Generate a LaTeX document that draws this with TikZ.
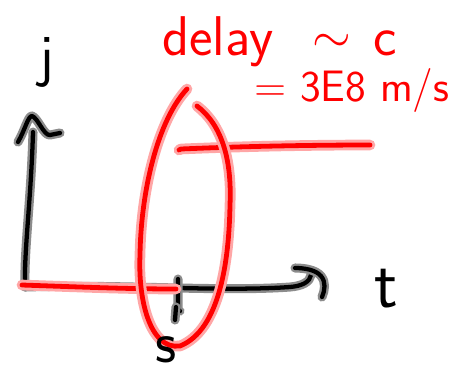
\documentclass[tikz,border=0pt]{standalone}
\usetikzlibrary{calc}
\tikzset{
  pen/.style={draw=black, line cap=round, line join=round, line width=3.2pt,
    preaction={draw=black!45, line width=6.8pt, line cap=round, line join=round}},
  redpen/.style={draw=red, line cap=round, line join=round, line width=3.6pt,
    preaction={draw=red!35, line width=8pt, line cap=round, line join=round}},
  redlabel/.style={text=red, inner sep=0pt, font=\sffamily},
  blacklabel/.style={text=black, inner sep=0pt, font=\sffamily},
}
\begin{document}
\begin{tikzpicture}[x=0.75pt,y=-0.75pt]
\useasboundingbox (0,0) rectangle (467,376);
% y axis
\draw[pen] (33,132) .. controls (31,200) and (24,250) .. (25,287);
\draw[pen] (18,142) .. controls (25,130) and (28,116) .. (32,116) .. controls (38,118) and (44,136) .. (50,135) -- (60,133);
% x axis
\draw[pen] (25,287) .. controls (120,284) and (220,292) .. (290,287) .. controls (302,286) and (310,282) .. (311,275);
\draw[pen] (295,268) .. controls (305,268) and (316,270) .. (321,276) .. controls (326,282) and (325,290) .. (322,297);
% tick
\draw[pen] (178,279) -- (178,310) -- (180,311);
\draw[pen] (176,307) -- (175,320);
% red baseline
\draw[redpen] (22,285) .. controls (80,287) and (130,289) .. (176,289);
% red step line
\draw[redpen] (179,150) -- (181,149) .. controls (250,146) and (320,145) .. (370,145);
% red ellipse
\draw[redpen] (197,106) .. controls (222,125) and (232,160) .. (230,205) .. controls (229,260) and (220,330) .. (180,346) .. controls (150,350) and (138,300) .. (140,255) .. controls (141,190) and (158,120) .. (187,89);
% labels
\node[blacklabel, font=\sffamily\fontsize{44}{46}\selectfont] (jlab) at (47,62) {j};
\node[blacklabel, font=\sffamily\fontsize{52}{54}\selectfont] (tlab) at (386,289) {t};
\node[blacklabel, font=\sffamily\fontsize{44}{46}\selectfont] (slab) at (166,350) {s};
\node[redlabel, anchor=base west, font=\sffamily\fontsize{42}{44}\selectfont] (delay) at (162,55) {delay\hspace{0.7em}\raisebox{0.05em}{\scalebox{1.5}{$\sim$}}\hspace{0.4em}c};
\node[redlabel, anchor=base west, font=\sffamily\fontsize{33}{36}\selectfont] (value) at (254,101) {= 3E8 m/s};
\end{tikzpicture}
\end{document}
